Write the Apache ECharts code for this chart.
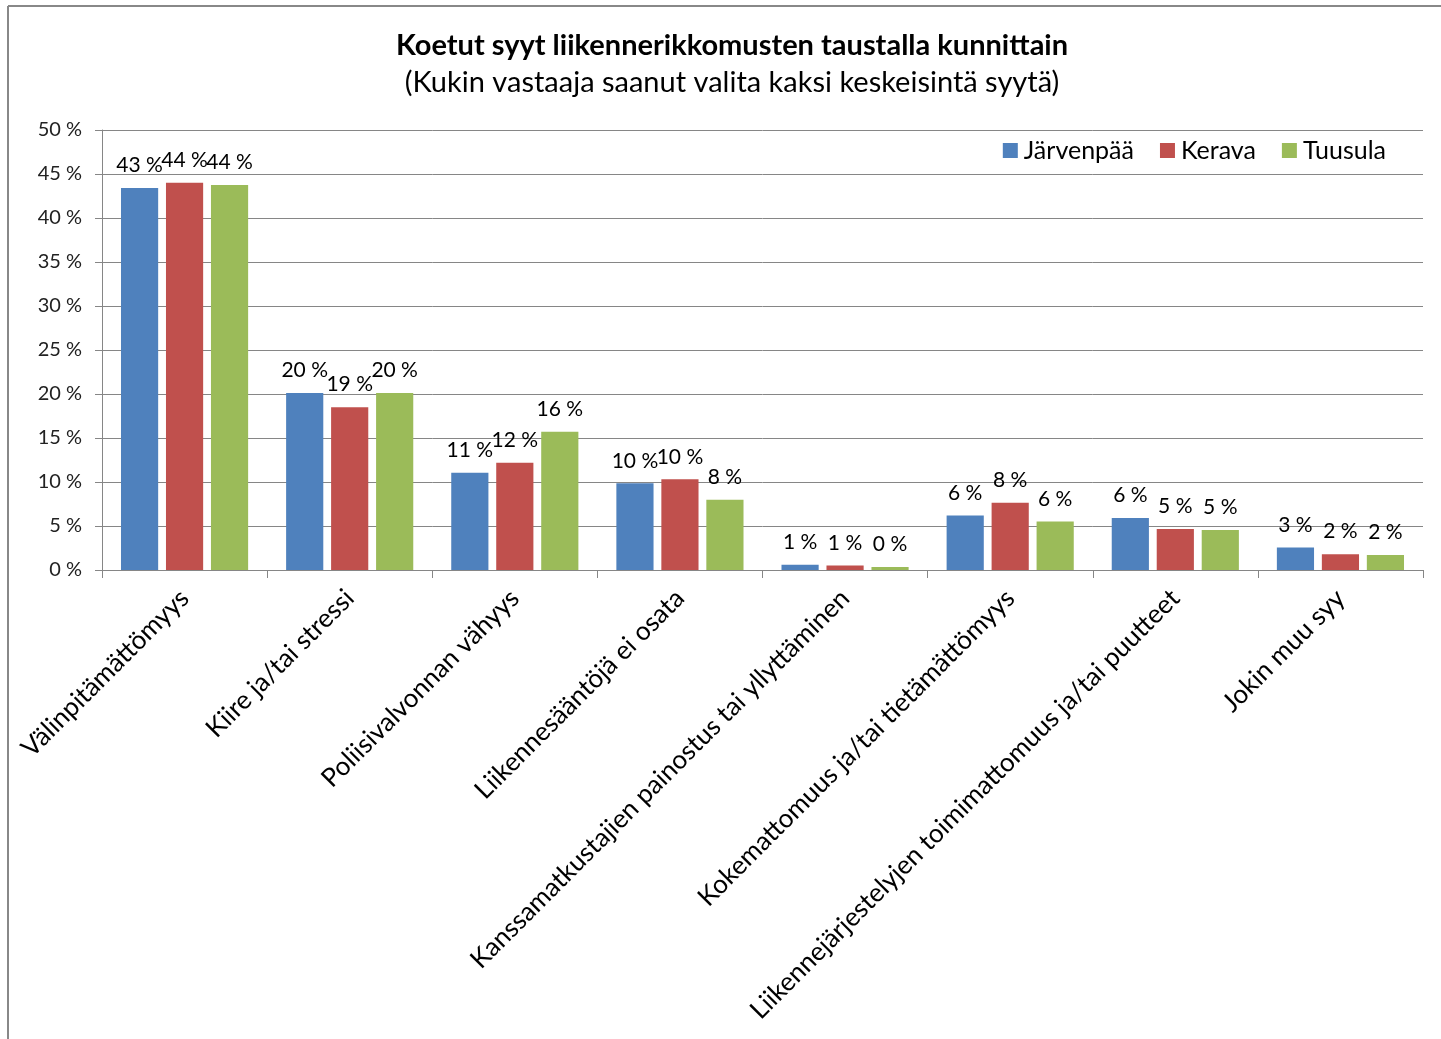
<!DOCTYPE html>
<html>
<head>
<meta charset="utf-8">
<script src="https://cdn.jsdelivr.net/npm/echarts@6/dist/echarts.min.js"></script>
<style>
html,body{margin:0;padding:0;background:#fff;}
#c{width:1441px;height:1039px;}
</style>
</head>
<body>
<div id="c"></div>
<script>
const categories = ["Välinpitämättömyys","Kiire ja/tai stressi","Poliisivalvonnan vähyys","Liikennesääntöjä ei osata","Kanssamatkustajien painostus tai yllyttäminen","Kokemattomuus ja/tai tietämättömyys","Liikennejärjestelyjen toimimattomuus ja/tai puutteet","Jokin muu syy"];
const jarvenpaa = [43.4, 20.1, 11.05, 9.85, 0.6, 6.2, 5.9, 2.55];
const kerava    = [44.0, 18.5, 12.2, 10.3, 0.5, 7.65, 4.65, 1.8];
const tuusula   = [43.75, 20.1, 15.7, 7.97, 0.35, 5.5, 4.55, 1.7];
const seriesNames = ["Järvenpää","Kerava","Tuusula"];
const colors = ["#4f81bd","#c0504d","#9bbb59"];
const yTicks = [0,5,10,15,20,25,30,35,40,45,50];

const FONT = "Lato, 'Open Sans', sans-serif";
const chart = echarts.init(document.getElementById('c'));
const mk = (name, data, i) => ({
  name, type: 'bar', data,
  barGap: '21%', barCategoryGap: '23%',
  itemStyle: {color: colors[i]},
  label: {show: true, position: 'top', distance: 12, color: '#000', fontFamily: FONT, fontSize: 21,
    formatter: p => Math.round(p.value) + ' %'}
});
chart.setOption({
  animation: false,
  backgroundColor: '#fff',
  title: {
    text: 'Koetut syyt liikennerikkomusten taustalla kunnittain',
    subtext: '(Kukin vastaaja saanut valita kaksi keskeisintä syytä)',
    left: 727, top: 26, textAlign: 'center', itemGap: 8,
    textStyle: {fontFamily: FONT, fontSize: 29, fontWeight: 'bold', color: '#000'},
    subtextStyle: {fontFamily: FONT, fontSize: 29, color: '#000'}
  },
  legend: {
    data: seriesNames, right: 50, top: 133, itemWidth: 15, itemHeight: 15, itemGap: 26,
    icon: 'rect',
    textStyle: {fontFamily: FONT, fontSize: 25, color: '#000', padding: [0,0,0,1]}
  },
  grid: {left: 102, right: 18, top: 130, bottom: 469, containLabel: false},
  xAxis: {
    type: 'category', data: categories,
    axisLine: {lineStyle: {color: '#868686', width: 1}},
    axisTick: {show: true, alignWithLabel: false, length: 8, lineStyle: {color: '#868686'}},
    axisLabel: {rotate: 45, interval: 0, margin: 24, color: '#000', fontFamily: FONT, fontSize: 26}
  },
  yAxis: {
    type: 'value', min: 0, max: 50, interval: 5,
    axisLine: {show: true, lineStyle: {color: '#868686'}},
    axisTick: {show: true, inside: false, length: 7, lineStyle: {color: '#868686'}},
    splitLine: {lineStyle: {color: '#868686', width: 1}},
    axisLabel: {color: '#222', fontFamily: FONT, fontSize: 20, margin: 20,
      formatter: v => yTicks.includes(v) ? v + ' %' : ''}
  },
  series: [mk(seriesNames[0], jarvenpaa, 0), mk(seriesNames[1], kerava, 1), mk(seriesNames[2], tuusula, 2)],
  graphic: [
    {type: 'line', shape: {x1: 8, y1: 6, x2: 1441, y2: 6}, style: {stroke: '#888', lineWidth: 2}},
    {type: 'line', shape: {x1: 8, y1: 6, x2: 8, y2: 1039}, style: {stroke: '#888', lineWidth: 2}}
  ]
});
</script>
</body>
</html>
